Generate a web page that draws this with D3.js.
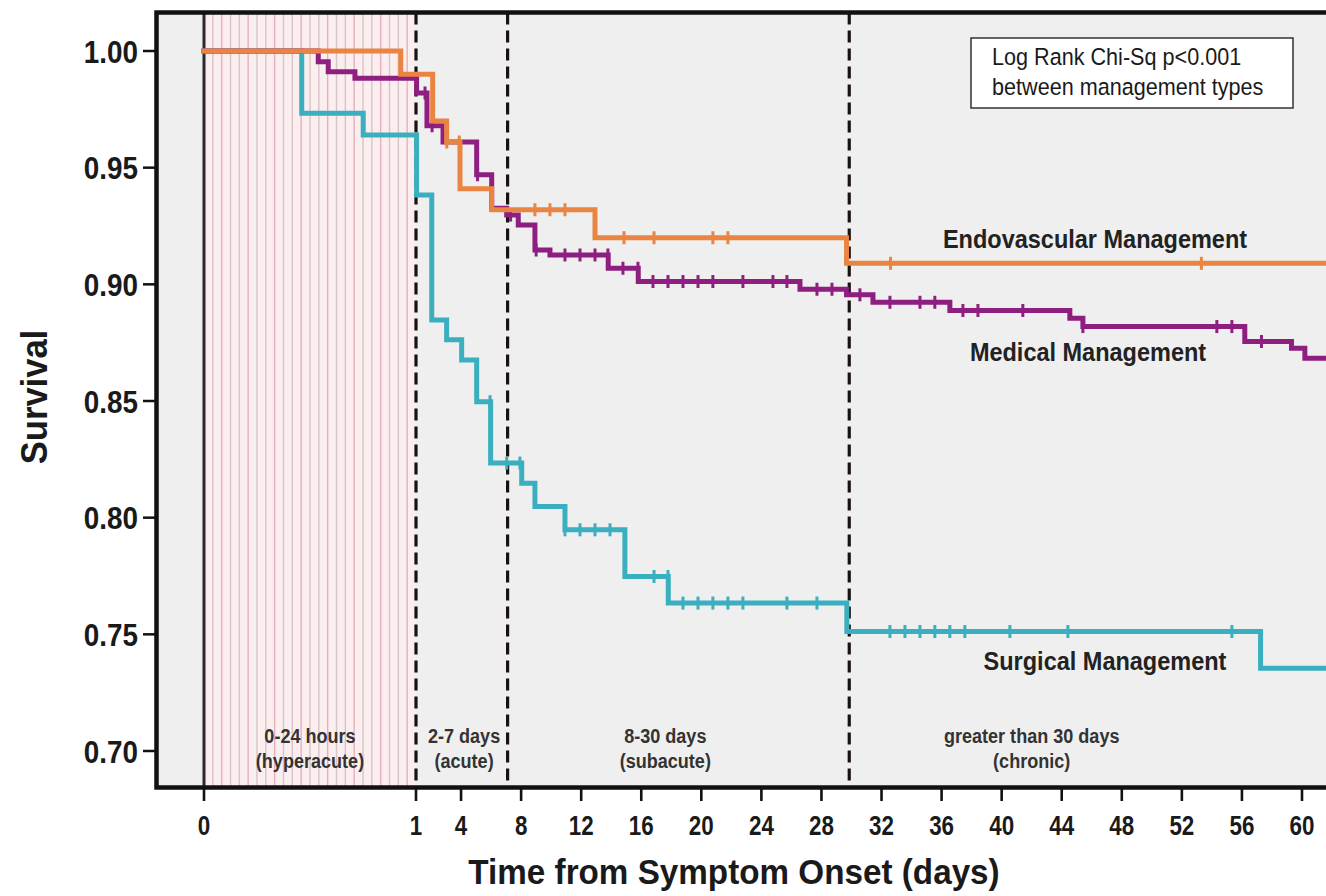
<!DOCTYPE html>
<html>
<head>
<meta charset="utf-8">
<script src="https://cdn.jsdelivr.net/npm/d3@7"></script>
<style>
  html, body { margin: 0; padding: 0; background: #ffffff; overflow: hidden; }
  svg { display: block; }
  text { font-family: "Liberation Sans", Arial, sans-serif; }
</style>
</head>
<body>
<svg id="chart" width="1326" height="896"></svg>
<script>
// ---------------- DATA ----------------
// x tick labels (days)
const xTicks = [0, 1, 4, 8, 12, 16, 20, 24, 28, 32, 36, 40, 44, 48, 52, 56, 60];
const yTicks = [0.70, 0.75, 0.80, 0.85, 0.90, 0.95, 1.00];

// phase boundaries (days) and labels
const phaseBounds = [1, 7.1, 29.85];
const phaseLabels = [
  { at: 0.5,  l1: "0-24 hours", l2: "(hyperacute)" },
  { at: 4.2,  l1: "2-7 days",   l2: "(acute)" },
  { at: 17.6, l1: "8-30 days",  l2: "(subacute)" },
  { at: 42.0, l1: "greater than 30 days", l2: "(chronic)" }
];

const endDay = 64;

// Endovascular Management (orange): step times and survival after step
const endoTimes  = [0, 0.928, 2.11, 3.04, 3.93, 6.04, 12.92, 29.67];
const endoSurv   = [1.000, 0.990, 0.970, 0.961, 0.941, 0.932, 0.920, 0.909];
const endoCensor = [3.05, 3.88, 8.92, 9.92, 10.92, 14.85, 16.85, 20.77, 21.77, 32.6, 53.3];

// Medical Management (purple)
const medTimes  = [0, 0.539, 0.586, 0.712, 1.04, 1.73, 2.8, 5.04, 6.04, 7.04, 7.81, 8.92, 9.92,
                   13.8, 15.8, 26.57, 29.67, 31.43, 36.55, 44.54, 45.41, 56.19, 59.3, 60.19];
const medSurv   = [1.000, 0.9954, 0.9911, 0.9883, 0.982, 0.968, 0.961, 0.947, 0.9326, 0.9297, 0.9254,
                   0.9147, 0.9126, 0.9069, 0.9012, 0.8979, 0.8955, 0.8923, 0.8888, 0.8855, 0.8819,
                   0.8755, 0.8726, 0.8683];
const medCensor = [1.6, 2.07, 5.1, 7.3, 9.0, 10.92, 11.92, 12.92, 13.78, 14.78,
                   15.78, 16.78, 17.78, 18.78, 19.78, 20.77, 22.77, 24.77, 25.7, 27.7, 28.7,
                   30.56, 32.56, 34.56, 35.55, 37.42, 38.42, 41.41, 45.41, 54.33, 55.33, 57.3];

// Surgical Management (teal)
const surgTimes  = [0, 0.461, 0.751, 1.04, 2.05, 3.04, 4.04, 5.04, 5.97, 8.04, 8.92, 10.92,
                    14.91, 17.8, 29.69, 57.24];
const surgSurv   = [1.000, 0.9733, 0.964, 0.9383, 0.8847, 0.8762, 0.8676, 0.8497, 0.8234, 0.8148,
                    0.8048, 0.7948, 0.7748, 0.7634, 0.7512, 0.7355];
const surgCensor = [5.93, 7.04, 7.92, 10.92, 11.92, 12.92, 13.92, 16.85,
                    17.78, 18.78, 19.78, 20.77, 21.77, 22.77, 25.7, 27.7,
                    32.56, 33.56, 34.56, 35.55, 36.55, 37.55, 40.55, 44.41, 55.33];

const seriesNames  = ["Surgical Management", "Medical Management", "Endovascular Management"];
const seriesColors = ["#3aafbf", "#8e1f80", "#ea8442"];

// --------------- CHART ----------------
const svg = d3.select("#chart");
const frame = { left: 156.5, top: 12.5, right: 1326, bottom: 787.5 };

const x = d3.scaleLinear().domain([0, 1, 60]).range([204, 416, 1302]);
const y = d3.scaleLinear().domain([0.70, 1.00]).range([751, 51]);

// plot background
svg.append("rect")
  .attr("x", frame.left).attr("y", frame.top)
  .attr("width", frame.right - frame.left).attr("height", frame.bottom - frame.top)
  .attr("fill", "#efefef");

// hyperacute shaded region with stripes
svg.append("rect")
  .attr("x", x(0)).attr("y", frame.top)
  .attr("width", x(1) - x(0)).attr("height", frame.bottom - frame.top)
  .attr("fill", "#fbeeef");
const stripes = d3.range(1, 24).map(i => i / 24);
svg.append("g").selectAll("line").data(stripes).join("line")
  .attr("x1", d => x(d)).attr("x2", d => x(d))
  .attr("y1", frame.top).attr("y2", frame.bottom)
  .attr("stroke", (d, i) => i % 3 === 1 ? "#e9aebb" : "#d8c3c8")
  .attr("stroke-width", 1.4);

// day 0 solid line
svg.append("line")
  .attr("x1", x(0)).attr("x2", x(0)).attr("y1", frame.top).attr("y2", frame.bottom)
  .attr("stroke", "#2a2a2a").attr("stroke-width", 3);

// phase dashed lines
svg.append("g").selectAll("line").data(phaseBounds).join("line")
  .attr("x1", d => x(d)).attr("x2", d => x(d))
  .attr("y1", frame.top).attr("y2", frame.bottom)
  .attr("stroke", "#1a1212").attr("stroke-width", 3.2)
  .attr("stroke-dasharray", "12,6");

// phase labels
const phaseG = svg.append("g").attr("fill", "#333").attr("font-weight", "bold").attr("font-size", 21);
phaseLabels.forEach(p => {
  phaseG.append("text").attr("text-anchor", "middle")
    .attr("transform", `translate(${x(p.at)},743) scale(0.86,1)`).text(p.l1);
  phaseG.append("text").attr("text-anchor", "middle")
    .attr("transform", `translate(${x(p.at)},768) scale(0.86,1)`).text(p.l2);
});

// series
const line = d3.line().x(d => x(d[0])).y(d => y(d[1])).curve(d3.curveStepAfter);
const allSeries = [
  { times: surgTimes, surv: surgSurv, censor: surgCensor },
  { times: medTimes, surv: medSurv, censor: medCensor },
  { times: endoTimes, surv: endoSurv, censor: endoCensor }
];
function survAt(s, t) {
  let v = s.surv[0];
  for (let i = 0; i < s.times.length; i++) if (s.times[i] <= t) v = s.surv[i];
  return v;
}
svg.append("clipPath").attr("id", "plotclip").append("rect")
  .attr("x", frame.left).attr("y", frame.top)
  .attr("width", frame.right - frame.left).attr("height", frame.bottom - frame.top);

const seriesG = svg.append("g").attr("clip-path", "url(#plotclip)");
allSeries.forEach((s, k) => {
  const pts = s.times.map((t, i) => [t, s.surv[i]]);
  pts.push([endDay, s.surv[s.surv.length - 1]]);
  seriesG.append("path").datum(pts)
    .attr("d", line)
    .attr("fill", "none")
    .attr("stroke", seriesColors[k])
    .attr("stroke-width", 5)
    .attr("stroke-linejoin", "miter")
    .attr("stroke-linecap", "square");
  seriesG.append("g").selectAll("line").data(s.censor).join("line")
    .attr("x1", d => x(d)).attr("x2", d => x(d))
    .attr("y1", d => y(survAt(s, d)) - 6.5).attr("y2", d => y(survAt(s, d)) + 6.5)
    .attr("stroke", seriesColors[k])
    .attr("stroke-width", 3);
});

// frame border (open on the right: the chart continues past the image edge)
svg.append("path")
  .attr("d", `M${frame.right + 10},${frame.top} L${frame.left},${frame.top} L${frame.left},${frame.bottom} L${frame.right + 10},${frame.bottom}`)
  .attr("fill", "none").attr("stroke", "#111").attr("stroke-width", 4.5);

// y axis ticks and labels
const yG = svg.append("g");
yG.selectAll("line").data(yTicks).join("line")
  .attr("x1", 143).attr("x2", frame.left).attr("y1", d => y(d)).attr("y2", d => y(d))
  .attr("stroke", "#111").attr("stroke-width", 2.5);
yG.selectAll("text").data(yTicks).join("text")
  .attr("text-anchor", "end")
  .attr("font-weight", "bold").attr("font-size", 32).attr("fill", "#1a1a1a")
  .attr("transform", d => `translate(138,${y(d) + 11.5}) scale(0.87,1)`)
  .text(d => d3.format(".2f")(d));

// x axis ticks and labels
const xG = svg.append("g");
xG.selectAll("line").data(xTicks).join("line")
  .attr("x1", d => x(d)).attr("x2", d => x(d)).attr("y1", frame.bottom).attr("y2", 801)
  .attr("stroke", "#111").attr("stroke-width", 2.6);
xG.selectAll("text").data(xTicks).join("text")
  .attr("text-anchor", "middle")
  .attr("font-size", 28).attr("fill", "#1a1a1a").attr("font-weight", "bold")
  .attr("transform", d => `translate(${x(d)},835) scale(0.8,1)`)
  .text(d => d);

// axis titles
svg.append("text").attr("text-anchor", "middle")
  .attr("font-weight", "bold").attr("font-size", 35).attr("fill", "#1a1a1a")
  .attr("transform", "translate(734,884) scale(0.95,1)")
  .text("Time from Symptom Onset (days)");
svg.append("text").attr("text-anchor", "middle")
  .attr("font-weight", "bold").attr("font-size", 36).attr("fill", "#1a1a1a")
  .attr("transform", "translate(47,397) rotate(-90) scale(0.96,1)")
  .text("Survival");

// series labels
const labelPos = [
  { name: seriesNames[2], x: 1095, y: 248 },
  { name: seriesNames[1], x: 1088, y: 361 },
  { name: seriesNames[0], x: 1105, y: 670 }
];
labelPos.forEach(l => {
  svg.append("text").attr("text-anchor", "middle")
    .attr("font-weight", "bold").attr("font-size", 25).attr("fill", "#222")
    .attr("transform", `translate(${l.x},${l.y}) scale(0.94,1)`)
    .text(l.name);
});

// annotation box
svg.append("rect")
  .attr("x", 971).attr("y", 38).attr("width", 322).attr("height", 70)
  .attr("fill", "#ffffff").attr("stroke", "#333").attr("stroke-width", 1.5);
const annG = svg.append("g").attr("font-size", 23.5).attr("fill", "#1a1a1a");
annG.append("text").attr("transform", "translate(992,65) scale(0.92,1)").text("Log Rank Chi-Sq p<0.001");
annG.append("text").attr("transform", "translate(992,95) scale(0.92,1)").text("between management types");
</script>
</body>
</html>
